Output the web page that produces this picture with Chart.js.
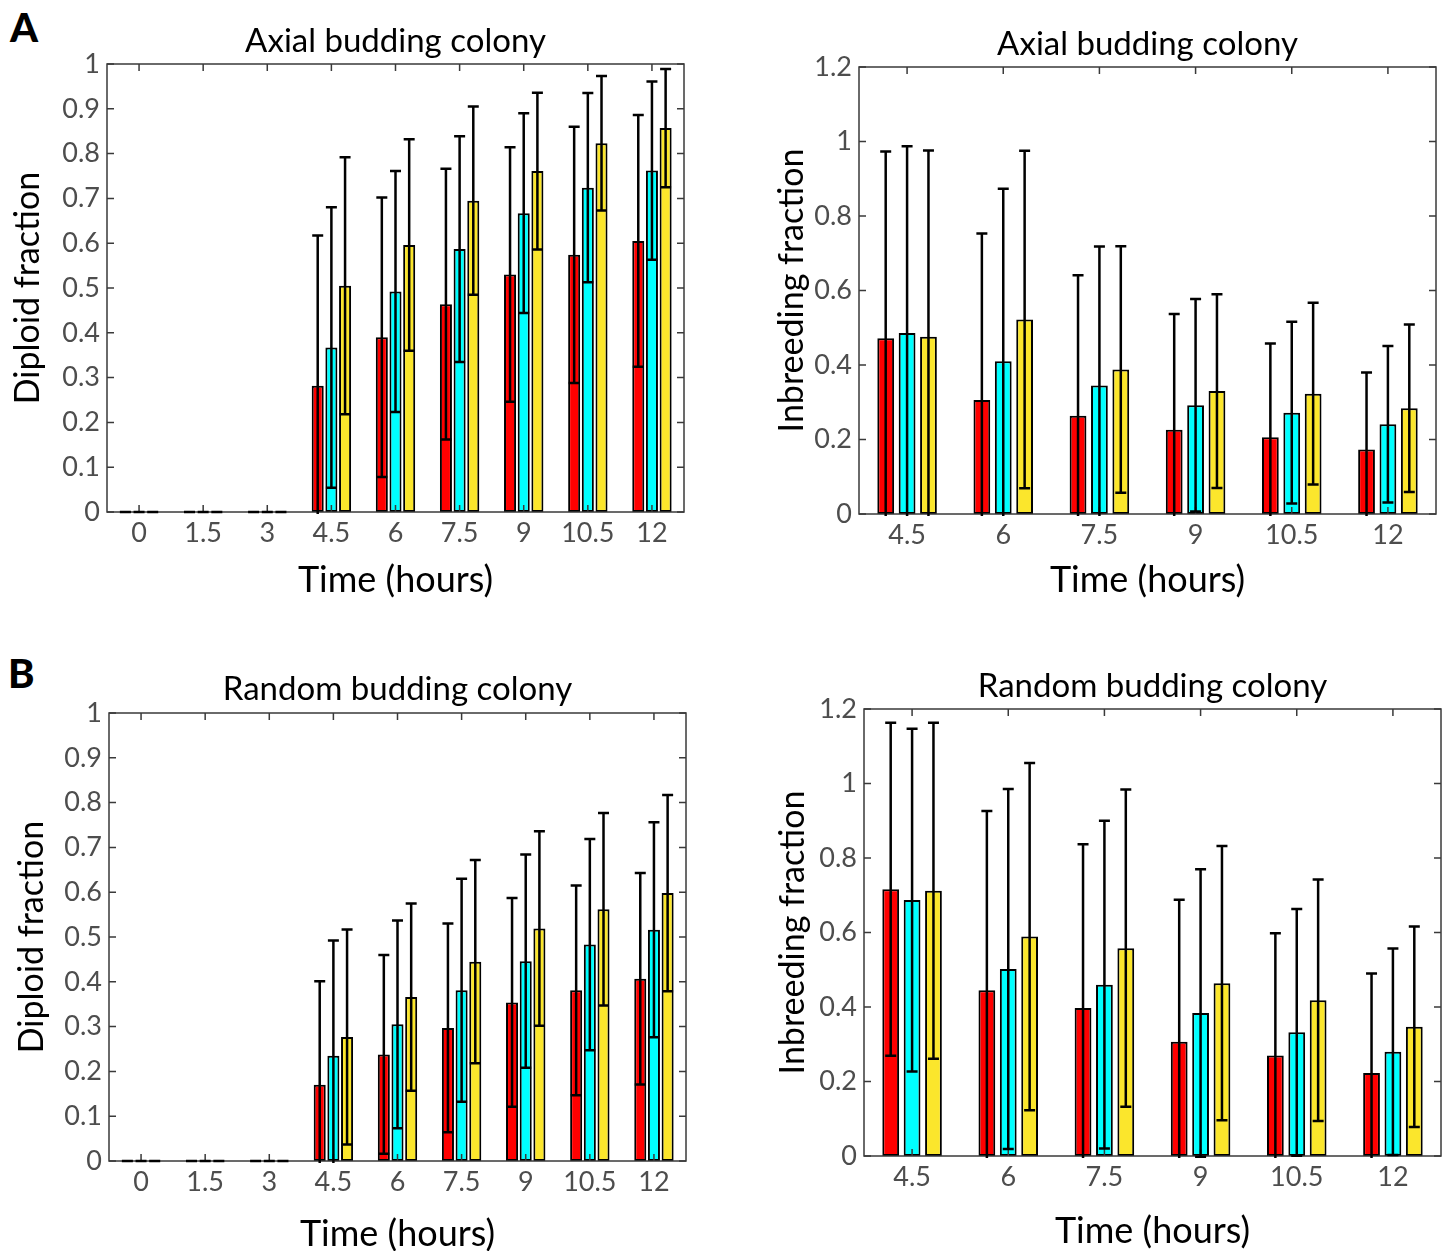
<!DOCTYPE html>
<html>
<head>
<meta charset="utf-8">
<script src="https://cdn.jsdelivr.net/npm/chart.js@4.4.0/dist/chart.umd.min.js"></script>
<style>
body { margin: 0; background: #fff; width: 1450px; height: 1251px; position: relative; overflow: hidden; }
canvas { position: absolute; }
.panel-label { position: absolute; font-family: Lato, sans-serif; font-weight: 900; font-size: 40px; line-height: 1; color: #000; }
</style>
</head>
<body>
<div class="panel-label" style="left:10px;top:7px">A</div>
<div class="panel-label" style="left:8px;top:653px">B</div>
<canvas id="axialDiploid" width="725" height="620" style="left:0;top:0"></canvas>
<canvas id="axialInbreeding" width="725" height="620" style="left:725px;top:0"></canvas>
<canvas id="randomDiploid" width="725" height="640" style="left:0;top:630px"></canvas>
<canvas id="randomInbreeding" width="725" height="640" style="left:725px;top:630px"></canvas>
<script>
const allTimes = ['0', '1.5', '3', '4.5', '6', '7.5', '9', '10.5', '12'];
const lateTimes = ['4.5', '6', '7.5', '9', '10.5', '12'];

// axial colony, diploid fraction: mean and sd
const axialDipRed = [0, 0, 0, 0.282, 0.390, 0.464, 0.530, 0.574, 0.605];
const axialDipRedSd = [0, 0, 0, 0.335, 0.312, 0.302, 0.284, 0.286, 0.281];
const axialDipCyan = [0, 0, 0, 0.367, 0.492, 0.587, 0.667, 0.724, 0.762];
const axialDipCyanSd = [0, 0, 0, 0.313, 0.269, 0.252, 0.223, 0.211, 0.199];
const axialDipYellow = [0, 0, 0, 0.505, 0.596, 0.695, 0.761, 0.823, 0.857];
const axialDipYellowSd = [0, 0, 0, 0.287, 0.236, 0.210, 0.175, 0.150, 0.132];

// axial colony, inbreeding fraction
const axialInbRed = [0.472, 0.306, 0.264, 0.226, 0.206, 0.173];
const axialInbRedSd = [0.501, 0.447, 0.377, 0.311, 0.252, 0.207];
const axialInbCyan = [0.486, 0.410, 0.345, 0.292, 0.272, 0.241];
const axialInbCyanSd = [0.501, 0.463, 0.373, 0.285, 0.244, 0.210];
const axialInbYellow = [0.476, 0.522, 0.388, 0.330, 0.323, 0.284];
const axialInbYellowSd = [0.500, 0.453, 0.331, 0.260, 0.244, 0.225];

// random colony, diploid fraction
const randDipRed = [0, 0, 0, 0.170, 0.238, 0.297, 0.354, 0.381, 0.407];
const randDipRedSd = [0, 0, 0, 0.231, 0.222, 0.233, 0.233, 0.234, 0.236];
const randDipCyan = [0, 0, 0, 0.235, 0.305, 0.381, 0.446, 0.483, 0.516];
const randDipCyanSd = [0, 0, 0, 0.257, 0.232, 0.249, 0.238, 0.236, 0.240];
const randDipYellow = [0, 0, 0, 0.277, 0.366, 0.445, 0.519, 0.562, 0.598];
const randDipYellowSd = [0, 0, 0, 0.240, 0.209, 0.227, 0.217, 0.215, 0.219];

// random colony, inbreeding fraction
const randInbRed = [0.716, 0.445, 0.397, 0.307, 0.270, 0.223];
const randInbRedSd = [0.447, 0.481, 0.440, 0.381, 0.328, 0.267];
const randInbCyan = [0.687, 0.502, 0.460, 0.384, 0.332, 0.280];
const randInbCyanSd = [0.460, 0.483, 0.440, 0.386, 0.331, 0.277];
const randInbYellow = [0.712, 0.589, 0.558, 0.464, 0.418, 0.347];
const randInbYellowSd = [0.451, 0.466, 0.426, 0.368, 0.324, 0.269];

const RED = '#ff0000', CYAN = '#00ffff', YELLOW = '#fbe62c';
const FONT = 'Lato, sans-serif';
const TICK_COLOR = '#4d4d4d';

// matlab style box with inward ticks
const axesBox = {
  id: 'axesBox',
  afterDraw(chart) {
    const { ctx, chartArea: a, scales: { x, y } } = chart;
    ctx.save();
    ctx.strokeStyle = '#3a3a3a';
    ctx.lineWidth = 1.5;
    ctx.strokeRect(a.left, a.top, a.right - a.left, a.bottom - a.top);
    ctx.beginPath();
    x.ticks.forEach((t, i) => {
      const px = x.getPixelForTick(i);
      ctx.moveTo(px, a.bottom); ctx.lineTo(px, a.bottom - 7);
      ctx.moveTo(px, a.top); ctx.lineTo(px, a.top + 7);
    });
    y.ticks.forEach((t, i) => {
      const py = y.getPixelForTick(i);
      ctx.moveTo(a.left, py); ctx.lineTo(a.left + 7, py);
      ctx.moveTo(a.right, py); ctx.lineTo(a.right - 7, py);
    });
    ctx.stroke();
    ctx.restore();
  }
};

// error bars on top of everything, clipped to the plot box
const errorBars = {
  id: 'errorBars',
  afterDraw(chart) {
    const { ctx, chartArea: a, scales: { y } } = chart;
    ctx.save();
    ctx.beginPath();
    ctx.rect(a.left, a.top - 3, a.right - a.left, a.bottom - a.top + 5);
    ctx.clip();
    ctx.strokeStyle = '#000';
    ctx.lineWidth = 2.5;
    chart.data.datasets.forEach((ds, i) => {
      chart.getDatasetMeta(i).data.forEach((bar, j) => {
        const m = ds.data[j], e = ds.errors[j];
        const hi = y.getPixelForValue(m + e);
        const lo = y.getPixelForValue(m - e);
        ctx.beginPath();
        ctx.moveTo(bar.x, lo);
        ctx.lineTo(bar.x, hi);
        ctx.moveTo(bar.x - 5.5, hi);
        ctx.lineTo(bar.x + 5.5, hi);
        ctx.moveTo(bar.x - 5.5, lo);
        ctx.lineTo(bar.x + 5.5, lo);
        ctx.stroke();
      });
    });
    ctx.restore();
  }
};

function makePanel(id, box, plot, p) {
  const titleSize = 33, titleLH = titleSize * 1.2;
  const xTitleSize = 36, xTitleLH = xTitleSize * 1.2;
  const yTitleSize = 34, yTitleLH = yTitleSize * 1.2;
  const titleTop = p.titleY - box.top - titleLH / 2;
  const titleBottom = plot.top - box.top - titleTop - titleLH;
  const bar = (data, errors, color) => ({
    data, errors,
    backgroundColor: color,
    borderColor: '#000',
    borderWidth: 2,
    borderSkipped: false,
    categoryPercentage: p.catPct,
    barPercentage: p.barPct
  });
  new Chart(document.getElementById(id), {
    type: 'bar',
    data: {
      labels: p.labels,
      datasets: [bar(p.red, p.redSd, RED), bar(p.cyan, p.cyanSd, CYAN), bar(p.yellow, p.yellowSd, YELLOW)]
    },
    options: {
      responsive: false,
      animation: false,
      layout: { padding: { left: 0, top: 0, bottom: 0, right: box.left + box.width - plot.right } },
      plugins: {
        legend: { display: false },
        tooltip: { enabled: false },
        title: {
          display: true,
          fullSize: false,
          text: p.title,
          color: '#000',
          font: { family: FONT, size: titleSize, weight: 'normal' },
          padding: { top: titleTop, bottom: titleBottom }
        }
      },
      scales: {
        x: {
          grid: { display: false, drawTicks: false },
          border: { display: false },
          ticks: { color: TICK_COLOR, font: { family: FONT, size: 27 }, padding: 5, maxRotation: 0 },
          title: {
            display: true, text: 'Time (hours)', color: '#000',
            font: { family: FONT, size: xTitleSize },
            padding: { top: 0, bottom: box.top + box.height - p.xTitleY - xTitleLH / 2 }
          },
          afterFit: s => { s.height = box.top + box.height - plot.bottom; }
        },
        y: {
          min: 0, max: p.yMax,
          grid: { display: false, drawTicks: false },
          border: { display: false },
          ticks: {
            stepSize: p.yStep, color: TICK_COLOR, font: { family: FONT, size: 27 }, padding: 7,
            callback: v => String(+v.toFixed(1))
          },
          title: {
            display: true, text: p.yTitle, color: '#000',
            font: { family: FONT, size: yTitleSize },
            padding: { top: p.yTitleX - box.left - yTitleLH / 2, bottom: 0 }
          },
          afterFit: s => { s.width = plot.left - box.left; }
        }
      }
    },
    plugins: [axesBox, errorBars]
  });
}

makePanel('axialDiploid',
  { left: 0, top: 0, width: 725, height: 620 },
  { left: 107, top: 64, right: 684, bottom: 512 },
  { labels: allTimes, title: 'Axial budding colony', yTitle: 'Diploid fraction', yMax: 1, yStep: 0.1,
    red: axialDipRed, redSd: axialDipRedSd, cyan: axialDipCyan, cyanSd: axialDipCyanSd,
    yellow: axialDipYellow, yellowSd: axialDipYellowSd,
    catPct: 0.64, barPct: 0.88, titleY: 41, xTitleY: 580, yTitleX: 28 });

makePanel('axialInbreeding',
  { left: 725, top: 0, width: 725, height: 620 },
  { left: 859, top: 67, right: 1436, bottom: 514 },
  { labels: lateTimes, title: 'Axial budding colony', yTitle: 'Inbreeding fraction', yMax: 1.2, yStep: 0.2,
    red: axialInbRed, redSd: axialInbRedSd, cyan: axialInbCyan, cyanSd: axialInbCyanSd,
    yellow: axialInbYellow, yellowSd: axialInbYellowSd,
    catPct: 0.667, barPct: 0.785, titleY: 44, xTitleY: 580, yTitleX: 792 });

makePanel('randomDiploid',
  { left: 0, top: 630, width: 725, height: 640 },
  { left: 109, top: 713, right: 686, bottom: 1161 },
  { labels: allTimes, title: 'Random budding colony', yTitle: 'Diploid fraction', yMax: 1, yStep: 0.1,
    red: randDipRed, redSd: randDipRedSd, cyan: randDipCyan, cyanSd: randDipCyanSd,
    yellow: randDipYellow, yellowSd: randDipYellowSd,
    catPct: 0.64, barPct: 0.88, titleY: 689, xTitleY: 1234, yTitleX: 32 });

makePanel('randomInbreeding',
  { left: 725, top: 630, width: 725, height: 640 },
  { left: 864, top: 709, right: 1441, bottom: 1156 },
  { labels: lateTimes, title: 'Random budding colony', yTitle: 'Inbreeding fraction', yMax: 1.2, yStep: 0.2,
    red: randInbRed, redSd: randInbRedSd, cyan: randInbCyan, cyanSd: randInbCyanSd,
    yellow: randInbYellow, yellowSd: randInbYellowSd,
    catPct: 0.667, barPct: 0.785, titleY: 686, xTitleY: 1231, yTitleX: 793 });
</script>
</body>
</html>
